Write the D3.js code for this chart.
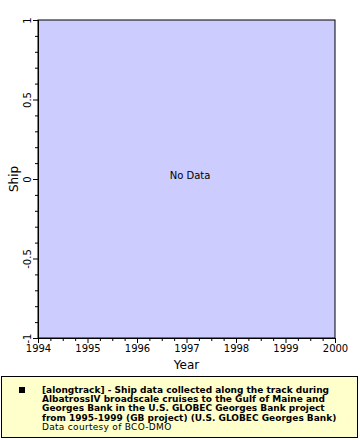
<!DOCTYPE html>
<html><head><meta charset="utf-8">
<script src="https://cdn.jsdelivr.net/npm/d3@7"></script>
<style>body{margin:0;background:#fff;}svg{display:block;font-family:"DejaVu Sans",sans-serif;}</style>
</head><body>
<svg id="c" width="360" height="440"></svg>
<script>
const xMajor = [1994,1995,1996,1997,1998,1999,2000];
const yMajor = [-1,-0.5,0,0.5,1];
const yLabels = ["-1","-0.5","0","0.5","1"];
const legendLines = [
 "[alongtrack] - Ship data collected along the track during",
 "AlbatrossIV broadscale cruises to the Gulf of Maine and",
 "Georges Bank in the U.S. GLOBEC Georges Bank project",
 "from 1995-1999 (GB project) (U.S. GLOBEC Georges Bank)"
];
const credit = "Data courtesy of BCO-DMO";

const svg = d3.select("#c");
const L=38, T=20, R=335, B=338;
const x = d3.scaleLinear().domain([1994,2000]).range([L,R]);
const y = d3.scaleLinear().domain([-1,1]).range([B,T]);

svg.append("rect").attr("x",L).attr("y",T).attr("width",R-L).attr("height",B-T)
  .attr("fill","#ccccff").attr("stroke","#000").attr("stroke-width",1);

const xMinor = d3.range(1994,2000.001,0.25).filter(v=>!xMajor.includes(v));
const yMinor = d3.range(-10,11).map(v=>v/10).filter(v=>!yMajor.includes(v));

const xa = svg.append("g").attr("transform",`translate(0,${B})`);
xa.append("g").call(d3.axisBottom(x).tickValues(xMinor).tickSize(3).tickFormat(""))
  .call(g=>g.select(".domain").remove());
xa.append("g").call(d3.axisBottom(x).tickValues(xMajor).tickSize(5).tickPadding(2).tickFormat(d3.format("d")))
  .call(g=>g.select(".domain").attr("stroke","#000"))
  .call(g=>g.selectAll("text").attr("font-size",10).attr("fill","#000").attr("font-family","DejaVu Sans"));

const ya = svg.append("g").attr("transform",`translate(${L},0)`);
ya.append("g").call(d3.axisLeft(y).tickValues(yMinor).tickSize(3).tickFormat(""))
  .call(g=>g.select(".domain").remove());
const yMaj = ya.append("g").call(d3.axisLeft(y).tickValues(yMajor).tickSize(5).tickFormat((d,i)=>yLabels[i]))
  .call(g=>g.select(".domain").attr("stroke","#000"));
yMaj.selectAll(".tick text").each(function(d){
  d3.select(this).attr("font-size",10).attr("fill","#000").attr("font-family","DejaVu Sans")
    .attr("x",-11).attr("y",0).attr("dy","0.35em").attr("text-anchor","middle")
    .attr("transform","rotate(-90,-11,0)");
});

svg.append("text").attr("x",(L+R)/2).attr("y",369).attr("text-anchor","middle")
  .attr("font-size",12).text("Year");
svg.append("text").attr("transform",`translate(18,${(T+B)/2}) rotate(-90)`).attr("text-anchor","middle")
  .attr("font-size",12).text("Ship");
svg.append("text").attr("x",190).attr("y",179).attr("text-anchor","middle")
  .attr("font-size",10).text("No Data");

// legend
svg.append("rect").attr("x",1.5).attr("y",376.5).attr("width",356).attr("height",61)
  .attr("fill","#ffffcc").attr("stroke","#000").attr("stroke-width",1);
svg.append("rect").attr("x",19).attr("y",387).attr("width",6).attr("height",6).attr("fill","#000");
svg.append("g").selectAll("text").data(legendLines).join("text")
  .attr("x",42).attr("y",(d,i)=>393+i*9.2).attr("font-size",9).attr("font-weight","bold")
  .text(d=>d);
svg.append("text").attr("x",42).attr("y",430).attr("font-size",9).attr("letter-spacing","0.3").text(credit);
</script>
</body></html>
